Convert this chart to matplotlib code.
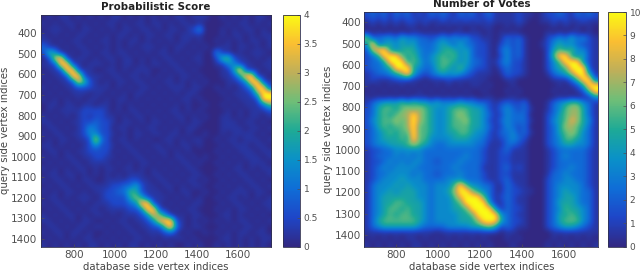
import numpy as np
import matplotlib
matplotlib.use('Agg')
import matplotlib.pyplot as plt
from matplotlib.colors import LinearSegmentedColormap

# colour bar, bottom to top
bar_colors = [(50, 40, 130), (30, 70, 200), (15, 110, 215), (10, 145, 200), (30, 170, 150),
              (110, 190, 120), (190, 175, 90), (250, 190, 50), (250, 250, 20)]

# share of the bar that each digit in the rows below stands for
digit_levels = [0, 0.06, 0.14, 0.24, 0.35, 0.46, 0.58, 0.7, 0.85, 1]

# cell values
score_rows = [
    "0101101010 1011010101 0101101110 0101010110",
    "1010110101 0110101101 1010110100 0010110101",
    "0111010110 1010110110 1011012400 0101011010",
    "1010101101 0101101011 0110111100 0101101011",
    "1101011010 1101011010 1010110100 1010101101",
    "3110101101 0101010111 0101101010 0110110101",
    "2641010110 1101101010 1101010100 4110101110",
    "0289201101 0110110101 0110101100 2662110101",
    "1129921011 1010110101 1011010100 1144211011",
    "0112992110 0110101110 0101101000 0115921101",
    "1011299211 1011011010 1010110100 0112599110",
    "0101128621 0101101101 0110101010 0011249921",
    "1010112221 1101010110 1011101100 1010124992",
    "0101011101 1010101101 0101011000 0101112699",
    "1010101011 0101101010 1010110100 0010111299",
    "0110110110 1101010101 0101010010 0101011136",
    "0101111222 2101011010 1011010100 0010101112",
    "1010101212 2110101101 0101101010 0110101101",
    "1101011223 2210110101 1010101100 0111011010",
    "0110101243 2201101011 0101011000 0111101101",
    "1011011244 2210101101 1011010010 0101111010",
    "0101101128 3201101010 0110101100 1011011101",
    "1101010124 2210110101 1010110100 0101110110",
    "0110101122 2201011010 1101010000 1010111011",
    "1010110112 2110101101 0101101010 0101011101",
    "0101011011 1101010110 1010110100 1010101110",
    "1010101101 0110110101 0101011000 0101101011",
    "0110110101 0101011101 1010101100 1010110101",
    "1011010110 0111122110 1101011010 0101011010",
    "0101101011 1122335211 0110101100 1010101101",
    "1010110101 1223365211 1010110010 0101110110",
    "0110101110 1222257521 1101010100 1011010101",
    "1011010101 1122234992 1010101100 0101101011",
    "0101101011 0111122499 2101011000 1010110101",
    "1010110101 1010111248 7410101100 0110101010",
    "1101010110 0101101124 8992101010 1010110101",
    "0110101101 1010110112 2693101100 0101011010",
    "1011011010 0101011011 1231010010 1010110110",
    "0101010110 1010101101 0101101000 0110101011",
    "1010101011 0101011010 1010010100 1010101010",
]

vote_rows = [
    "2323132312 1323213231 2311112110 1223213232",
    "1212121221 2112121212 1211112100 1121211211",
    "0101010110 1010101010 1100101000 0010101010",
    "1010101011 0101011011 0101010000 0101011010",
    "7334435443 3234343422 1101323100 0234353421",
    "4934545453 3345435332 2102323100 1245443221",
    "2799545654 3345654532 2103423100 0256564421",
    "2359996564 3456564532 2102423100 0269954521",
    "2335999565 3456654533 2113422100 0246999421",
    "2334599954 3356546432 2102322100 0245699921",
    "1233457953 2345454321 1101322100 0134579951",
    "1211122211 0111211111 1000110000 0011136993",
    "1010101010 1010101011 0100010000 0001012599",
    "0101010101 0101010100 1000101000 0010101269",
    "1010101011 1010101010 0100010000 0001010114",
    "1345556565 5454445443 3212322300 0134566431",
    "2356656767 6544566655 4213432310 0134677531",
    "2356567797 6544567655 4312433300 0235677531",
    "2456676797 6544566755 4213433310 0245687541",
    "2356566796 6544566655 4312432300 0235776531",
    "2345656696 6544556654 4213342310 0235676431",
    "2345556596 6444455544 3212343200 0234665431",
    "2344555676 5433444443 3111332100 0234554431",
    "1223344444 3333333333 2112311100 0123333321",
    "1233343434 3333333433 2112211100 0123433321",
    "1223434344 3323334333 2112211100 0123333321",
    "1234344443 3333343333 1112312100 0123343321",
    "1233444434 3323334333 2112211100 0133433321",
    "1234445444 3333444333 2112311100 0233443321",
    "1344454544 4344469644 3311321100 0234444321",
    "1344545554 4344579975 4311322110 0234544331",
    "1345555554 4344468999 6312321100 0234554331",
    "1345566555 4344456999 9411321100 0235554331",
    "1345665655 4344455699 9941322100 0234655431",
    "1345656655 4344445569 9994321100 0235565431",
    "1356666665 4344445557 9995322100 0235666431",
    "1345555554 3333444455 6752321100 0234554321",
    "1111111111 1101111111 1110110000 0011111111",
    "0101010110 1010101010 1000101000 0010101010",
    "1010101011 0101010101 0100010000 0101010101",
]

score_max = 4
vote_max = 10
score_ticks = [0, 0.5, 1, 1.5, 2, 2.5, 3, 3.5, 4]
score_tick_labels = ['0', '0.5', '1', '1.5', '2', '2.5', '3', '3.5', '4']
vote_ticks = [0, 1, 2, 3, 4, 5, 6, 7, 8, 9, 10]
x_ticks = [800, 1000, 1200, 1400, 1600]
y_ticks = [400, 500, 600, 700, 800, 900, 1000, 1100, 1200, 1300, 1400]


def rows_to_array(rows, top):
    """Turns the digit rows into a value matrix."""
    return np.array([[digit_levels[int(c)] for c in r.replace(' ', '')] for r in rows]) * top


def draw_panel(fig, ax_box, bar_box, values, extent, top, title, bar_ticks, bar_labels, title_y):
    W, H = fig.get_size_inches() * fig.dpi
    to_rect = lambda b: [b[0] / W, 1 - b[3] / H, (b[1] - b[0]) / W, (b[3] - b[2]) / H]
    ax = fig.add_axes(to_rect(ax_box))
    cax = fig.add_axes(to_rect(bar_box))

    im = ax.imshow(values, extent=extent, aspect='auto', cmap=parula, vmin=0, vmax=top,
                   interpolation='bicubic')
    ax.set_xticks(x_ticks)
    ax.set_yticks(y_ticks)
    ax.tick_params(direction='in', length=2, width=0.5, labelsize=7.5, colors='#505050', pad=2.5)
    ax.set_xlabel('database side vertex indices', fontsize=7.3, color='#444444', labelpad=1)
    ax.set_ylabel('query side vertex indices', fontsize=7.3, color='#444444', labelpad=1)
    fig.text((ax_box[0] + ax_box[1]) / 2 / W, 1 - title_y / H, title, fontsize=7.4, fontweight='bold',
             ha='center', va='center', color='#222222')

    cb = fig.colorbar(im, cax=cax)
    cb.set_ticks(bar_ticks)
    cb.set_ticklabels(bar_labels)
    cax.tick_params(direction='in', length=2, width=0.5, labelsize=6.5, colors='#505050', pad=2.5)
    for a in (ax, cax):
        for s in a.spines.values():
            s.set_linewidth(0.6)
            s.set_color('#303050')


if __name__ == "__main__":
    parula = LinearSegmentedColormap.from_list(
        'parula_like', [tuple(c / 255 for c in rgb) for rgb in bar_colors])

    fig = plt.figure(figsize=(6.4, 2.72), dpi=100)
    draw_panel(fig, (40.7, 271, 14.7, 246.7), (282.5, 300, 14.7, 246.7),
               rows_to_array(score_rows, score_max), [638, 1759, 1439, 309], score_max,
               'Probabilistic Score', score_ticks, score_tick_labels, 7)
    draw_panel(fig, (364.3, 598.3, 12, 246.7), (607.5, 626, 12, 246.7),
               rows_to_array(vote_rows, vote_max), [651, 1761, 1455, 351], vote_max,
               'Number of Votes', vote_ticks, [str(v) for v in vote_ticks], 4)
    plt.savefig('out.png', dpi=100)
